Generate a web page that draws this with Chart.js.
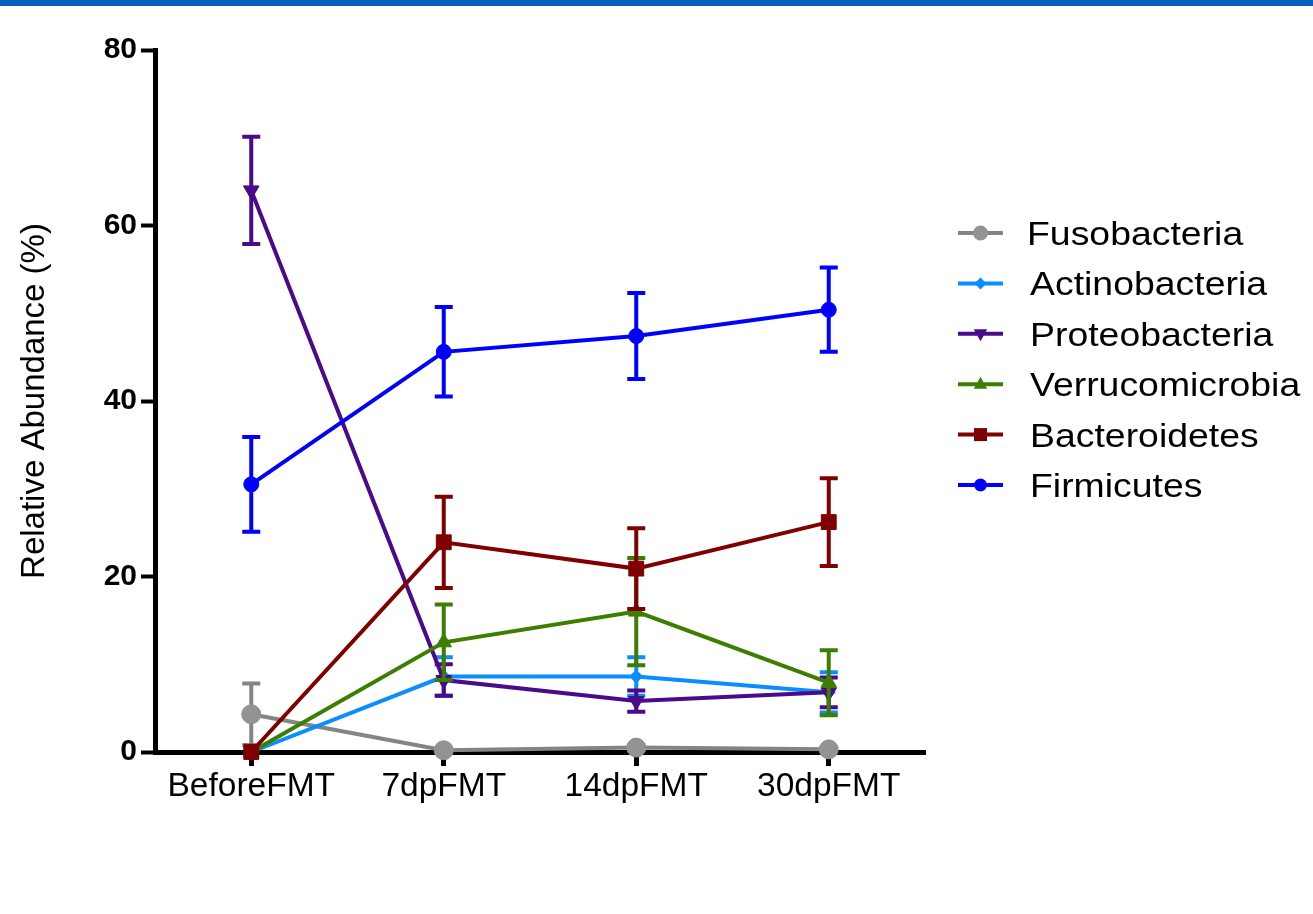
<!DOCTYPE html>
<html>
<head>
<meta charset="utf-8">
<script src="https://cdn.jsdelivr.net/npm/chart.js@4.4.1/dist/chart.umd.min.js"></script>
<style>
  html, body { margin: 0; padding: 0; background: #ffffff; }
  #wrap { position: relative; width: 1313px; height: 914px; overflow: hidden; }
  #topbar { position: absolute; left: 0; top: 0; width: 1313px; height: 6px; background: #0061BF; z-index: 2; }
  canvas { position: absolute; left: 0; top: 0; }
</style>
</head>
<body>
<div id="wrap">
  <div id="topbar"></div>
  <canvas id="c" width="1313" height="914"></canvas>
</div>
<script>
// ---- data ----
const categories = ['BeforeFMT', '7dpFMT', '14dpFMT', '30dpFMT'];
const yTickValues = [0, 20, 40, 60, 80];

const seriesNames = ['Fusobacteria', 'Actinobacteria', 'Proteobacteria', 'Verrucomicrobia', 'Bacteroidetes', 'Firmicutes'];

const fusobacteria      = [4.3, 0.2, 0.5, 0.3];
const fusobacteriaErr   = [3.5, 0.2, 0.3, 0.2];
const actinobacteria    = [0.0, 8.6, 8.6, 6.8];
const actinobacteriaErr = [0.0, 2.2, 2.2, 2.3];
const proteobacteria    = [64.0, 8.2, 5.8, 6.8];
const proteobacteriaErr = [6.1, 1.8, 1.2, 1.7];
const verrucomicrobia   = [0.0, 12.5, 16.0, 7.9];
const verrucomicrobiaErr= [0.0, 4.3, 6.1, 3.7];
const bacteroidetes     = [0.0, 23.9, 20.9, 26.2];
const bacteroidetesErr  = [0.0, 5.2, 4.6, 5.0];
const firmicutes        = [30.5, 45.6, 47.4, 50.4];
const firmicutesErr     = [5.4, 5.1, 4.9, 4.8];

// ---- styles ----
const FONT = "'Liberation Sans', Arial, Helvetica, sans-serif";
Chart.defaults.font.family = FONT;
Chart.defaults.color = '#000';

const styles = [
  { line: '#848484', point: '#939393', shape: 'circle',   r: 9.5, rot: 0,   legR: 7.5 },
  { line: '#0A8EFF', point: '#0A8EFF', shape: 'rectRot',  r: 6.5, rot: 0,   legR: 6 },
  { line: '#4B0A8C', point: '#4B0A8C', shape: 'triangle', r: 9,   rot: 180, legR: 7.5 },
  { line: '#3C7F00', point: '#3C7F00', shape: 'triangle', r: 9,   rot: 0,   legR: 7.5 },
  { line: '#800000', point: '#800000', shape: 'rect',     r: 10.5,rot: 0,   legR: 6.5 },
  { line: '#0000FF', point: '#0000FF', shape: 'circle',   r: 7.5, rot: 0,   legR: 6.5 }
];
const values = [fusobacteria, actinobacteria, proteobacteria, verrucomicrobia, bacteroidetes, firmicutes];
const errors = [fusobacteriaErr, actinobacteriaErr, proteobacteriaErr, verrucomicrobiaErr, bacteroidetesErr, firmicutesErr];

const datasets = seriesNames.map((name, i) => ({
  label: name,
  data: values[i],
  errors: errors[i],
  borderColor: styles[i].line,
  backgroundColor: styles[i].point,
  borderWidth: 4,
  tension: 0,
  fill: false,
  clip: false,
  order: seriesNames.length - i,
  pointStyle: styles[i].shape,
  pointRadius: styles[i].r,
  pointRotation: styles[i].rot,
  pointBackgroundColor: styles[i].point,
  pointBorderColor: styles[i].point,
  pointBorderWidth: 1,
  pointHoverRadius: styles[i].r
}));

// ---- error bars drawn through the chart's scales ----
const errorBarPlugin = {
  id: 'errorBars',
  beforeDatasetDraw(chart, args) {
    const ds = chart.data.datasets[args.index];
    const meta = args.meta;
    const ys = chart.scales.y;
    const ctx = chart.ctx;
    ctx.save();
    ctx.strokeStyle = ds.borderColor;
    ctx.lineWidth = 4;
    ctx.lineCap = 'butt';
    meta.data.forEach((pt, j) => {
      const e = ds.errors[j];
      if (!e) return;
      const v = ds.data[j];
      const x = pt.x;
      const yTop = ys.getPixelForValue(v + e);
      const yBot = ys.getPixelForValue(v - e);
      ctx.beginPath();
      ctx.moveTo(x, yTop); ctx.lineTo(x, yBot);
      ctx.moveTo(x - 9, yTop); ctx.lineTo(x + 9, yTop);
      ctx.moveTo(x - 9, yBot); ctx.lineTo(x + 9, yBot);
      ctx.stroke();
    });
    ctx.restore();
  }
};

// ---- custom legend: line + marker + text ----
function drawShape(ctx, shape, x, y, r, rot, color) {
  ctx.save();
  ctx.translate(x, y);
  ctx.rotate(rot * Math.PI / 180);
  ctx.fillStyle = color;
  ctx.beginPath();
  if (shape === 'circle') {
    ctx.arc(0, 0, r, 0, Math.PI * 2);
  } else if (shape === 'rect') {
    ctx.rect(-r, -r, 2 * r, 2 * r);
  } else if (shape === 'rectRot') {
    ctx.moveTo(0, -r); ctx.lineTo(r, 0); ctx.lineTo(0, r); ctx.lineTo(-r, 0); ctx.closePath();
  } else if (shape === 'triangle') {
    ctx.moveTo(0, -r); ctx.lineTo(r * 0.9, r * 0.6); ctx.lineTo(-r * 0.9, r * 0.6); ctx.closePath();
  }
  ctx.fill();
  ctx.restore();
}

const legendPlugin = {
  id: 'sideLegend',
  afterDraw(chart) {
    const ctx = chart.ctx;
    const lineY0 = 233, step = 50.4;
    chart.data.datasets.forEach((ds, i) => {
      const y = lineY0 + i * step;
      ctx.save();
      ctx.strokeStyle = styles[i].line;
      ctx.lineWidth = 4;
      ctx.beginPath();
      ctx.moveTo(958, y); ctx.lineTo(1003, y);
      ctx.stroke();
      ctx.restore();
      drawShape(ctx, styles[i].shape, 980.5, y, styles[i].legR, styles[i].rot, styles[i].point);
      ctx.save();
      ctx.fillStyle = '#000';
      ctx.font = '34px ' + FONT;
      ctx.textBaseline = 'alphabetic';
      ctx.textAlign = 'left';
      ctx.translate(i === 0 ? 1027 : 1030, y + 12);
      ctx.scale(1.1, 1);
      ctx.fillText(ds.label, 0, 0);
      ctx.restore();
    });
  }
};

new Chart(document.getElementById('c'), {
  type: 'line',
  data: { labels: categories, datasets: datasets },
  options: {
    responsive: false,
    animation: false,
    devicePixelRatio: 1,
    layout: { padding: { top: 50, right: 388, bottom: 0, left: 0 } },
    plugins: { legend: { display: false }, tooltip: { enabled: false } },
    scales: {
      x: {
        type: 'category',
        offset: true,
        grid: { display: true, drawOnChartArea: false, drawTicks: true, tickLength: 14, tickWidth: 5, tickColor: '#000', offset: false },
        border: { display: true, color: '#000', width: 5 },
        ticks: { color: '#000', font: { size: 33.5, family: FONT }, padding: 1, maxRotation: 0, autoSkip: false },
        afterFit(s) { s.height = 914 - 752; }
      },
      y: {
        min: 0, max: 80,
        afterBuildTicks(s) { s.ticks = yTickValues.map(v => ({ value: v })); },
        grid: { display: true, drawOnChartArea: false, drawTicks: true, tickLength: 14, tickWidth: 4, tickColor: '#000' },
        border: { display: true, color: '#000', width: 5 },
        ticks: { color: '#000', font: { size: 30, weight: 'bold', family: FONT }, padding: 4 },
        title: { display: true, text: 'Relative Abundance (%)', color: '#000', font: { size: 33, family: FONT }, padding: { top: 15, bottom: 0 } },
        afterFit(s) { s.width = 155; }
      }
    }
  },
  plugins: [errorBarPlugin, legendPlugin]
});
</script>
</body>
</html>
